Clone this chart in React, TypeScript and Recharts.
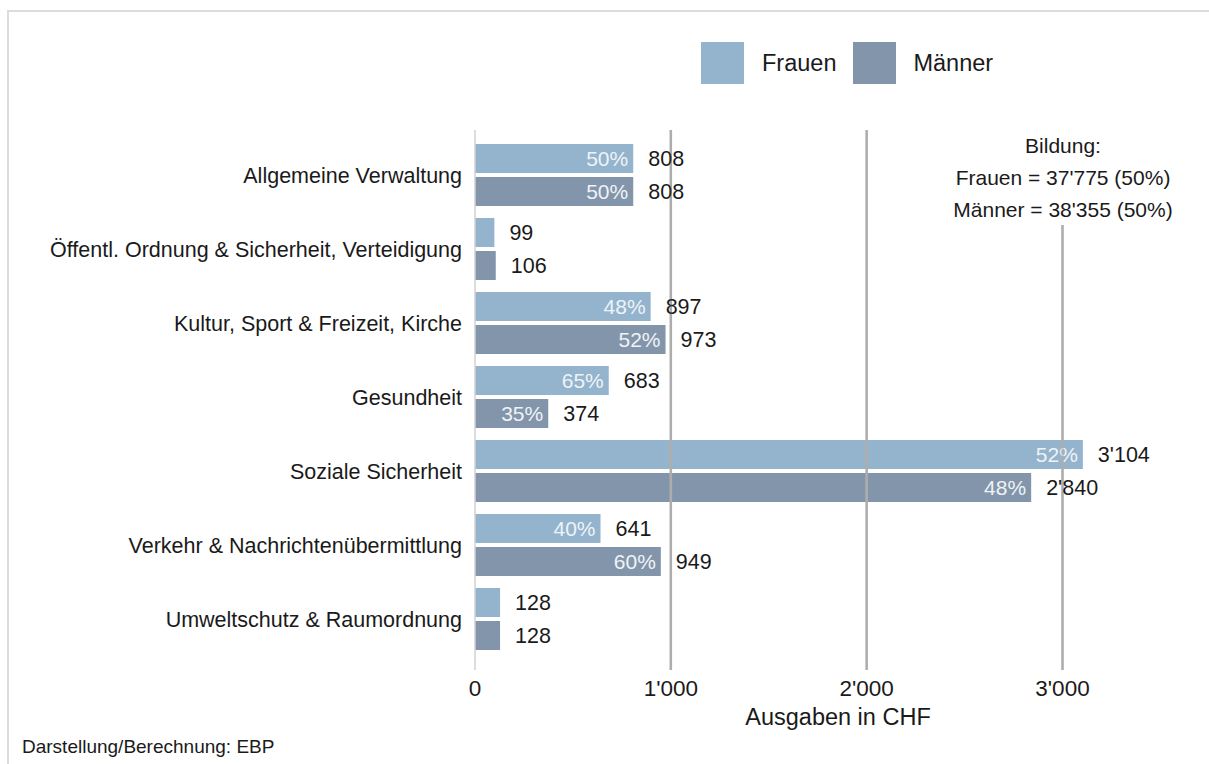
import { BarChart, Bar, XAxis, YAxis, ReferenceLine, LabelList } from "recharts";

const categories = [
  "Allgemeine Verwaltung",
  "Öffentl. Ordnung & Sicherheit, Verteidigung",
  "Kultur, Sport & Freizeit, Kirche",
  "Gesundheit",
  "Soziale Sicherheit",
  "Verkehr & Nachrichtenübermittlung",
  "Umweltschutz & Raumordnung",
];
const frauen = [808, 99, 897, 683, 3104, 641, 128];
const maenner = [808, 106, 973, 374, 2840, 949, 128];
const xTicks = [0, 1000, 2000, 3000];
const bildungFrauen = 37775;
const bildungMaenner = 38355;

const FONT = "'Liberation Sans', Arial, sans-serif";
const C_FRAUEN = "#94b4cd";
const C_MAENNER = "#8395aa";
const TXT = "#1a1a1a";
const X_DOMAIN = [0, 3600];

const fmt = (v: number) => String(v).replace(/\B(?=(\d{3})+(?!\d))/g, "'");
const pct = (a: number, b: number) => Math.round((a / (a + b)) * 100);

const data = categories.map((name, i) => ({
  name,
  frauen: frauen[i],
  maenner: maenner[i],
  fShare: pct(frauen[i], maenner[i]),
  mShare: pct(maenner[i], frauen[i]),
}));

const shareLabel = (key: "fShare" | "mShare") => (props: any) => {
  const { x, y, width, height, index, value } = props;
  if (value < 300) return null;
  return (
    <text
      x={x + width - 5}
      y={y + height / 2}
      textAnchor="end"
      dominantBaseline="central"
      fill="#eef3f7"
      fontSize={21}
      fontFamily={FONT}
    >
      {data[index][key]}%
    </text>
  );
};

const valueLabel = (props: any) => {
  const { x, y, width, height, value } = props;
  return (
    <text
      x={x + width + 15}
      y={y + height / 2}
      dominantBaseline="central"
      fill={TXT}
      fontSize={21.5}
      fontFamily={FONT}
    >
      {fmt(value)}
    </text>
  );
};

const gridLine = (skipTop: number, stroke: string) => (props: any) => {
  const { x1, y1, x2, y2 } = props;
  const top = Math.min(y1, y2);
  const bottom = Math.max(y1, y2);
  return <line x1={x1} y1={top + skipTop} x2={x2} y2={bottom} stroke={stroke} strokeWidth={2.5} />;
};

const UNDER = "#c6c6c6";
const OVER = "rgba(100,100,100,0.25)";

export default function App() {
  return (
    <div
      style={{
        position: "absolute",
        left: 0,
        top: 0,
        width: 1209,
        height: 764,
        background: "#fff",
        fontFamily: FONT,
        color: TXT,
        overflow: "hidden",
      }}
    >
      <div
        style={{
          position: "absolute",
          left: 7,
          top: 10,
          width: 1210,
          height: 760,
          borderTop: "2px solid #dcdcdc",
          borderLeft: "2px solid #dcdcdc",
        }}
      />

      {/* legend */}
      <div style={{ position: "absolute", left: 701, top: 42, display: "flex", alignItems: "center", fontSize: 23.5 }}>
        <div style={{ width: 43, height: 42, background: C_FRAUEN }} />
        <span style={{ marginLeft: 18 }}>Frauen</span>
        <div style={{ width: 43, height: 42, background: C_MAENNER, marginLeft: 17 }} />
        <span style={{ marginLeft: 17 }}>Männer</span>
      </div>

      <div style={{ position: "absolute", left: 0, top: 0 }}>
        <BarChart
          width={1209}
          height={764}
          data={data}
          layout="vertical"
          margin={{ top: 130, right: 29, bottom: 64, left: 0 }}
          barCategoryGap={6}
          barGap={4}
        >
          <ReferenceLine x={0} stroke="#d2d2d2" strokeWidth={1.5} />
          <ReferenceLine x={1000} shape={gridLine(0, UNDER)} />
          <ReferenceLine x={2000} shape={gridLine(0, UNDER)} />
          <ReferenceLine x={3000} shape={gridLine(95, UNDER)} />
          <XAxis
            type="number"
            domain={X_DOMAIN}
            ticks={xTicks}
            tickFormatter={fmt}
            axisLine={false}
            tickLine={false}
            tickSize={0}
            tickMargin={10}
            height={30}
            tick={{ fill: TXT, fontSize: 22.5, fontFamily: FONT }}
          />
          <YAxis
            type="category"
            dataKey="name"
            width={475}
            padding={{ top: 8, bottom: 14 }}
            axisLine={false}
            tickLine={false}
            tickSize={0}
            tickMargin={13}
            interval={0}
            tick={{ fill: TXT, fontSize: 21.5, fontFamily: FONT }}
          />
          <Bar dataKey="frauen" fill={C_FRAUEN} isAnimationActive={false}>
            <LabelList dataKey="frauen" content={shareLabel("fShare")} />
            <LabelList dataKey="frauen" content={valueLabel} />
          </Bar>
          <Bar dataKey="maenner" fill={C_MAENNER} isAnimationActive={false}>
            <LabelList dataKey="maenner" content={shareLabel("mShare")} />
            <LabelList dataKey="maenner" content={valueLabel} />
          </Bar>
        </BarChart>
      </div>

      {/* overlay with the same x scale, so the grid lines also show over the bars */}
      <div style={{ position: "absolute", left: 0, top: 0, pointerEvents: "none" }}>
        <BarChart
          width={1209}
          height={764}
          data={data}
          layout="vertical"
          margin={{ top: 130, right: 29, bottom: 64, left: 0 }}
        >
          <XAxis type="number" domain={X_DOMAIN} ticks={xTicks} height={30} tick={false} axisLine={false} tickLine={false} />
          <YAxis type="category" dataKey="name" width={475} tick={false} axisLine={false} tickLine={false} />
          <Bar dataKey="frauen" fill="transparent" fillOpacity={0} isAnimationActive={false} />
          <ReferenceLine x={1000} shape={gridLine(0, OVER)} />
          <ReferenceLine x={2000} shape={gridLine(0, OVER)} />
          <ReferenceLine x={3000} shape={gridLine(95, OVER)} />
        </BarChart>
      </div>

      {/* Bildung annotation */}
      <div
        style={{
          position: "absolute",
          left: 1063 - 160,
          top: 130,
          width: 320,
          textAlign: "center",
          fontSize: 21,
          lineHeight: "32px",
        }}
      >
        <div>Bildung:</div>
        <div>Frauen = {fmt(bildungFrauen)} ({pct(bildungFrauen, bildungMaenner)}%)</div>
        <div>Männer = {fmt(bildungMaenner)} ({pct(bildungMaenner, bildungFrauen)}%)</div>
      </div>

      <div style={{ position: "absolute", left: 628, width: 420, top: 704, textAlign: "center", fontSize: 23.5 }}>
        Ausgaben in CHF
      </div>
      <div style={{ position: "absolute", left: 22, top: 736, fontSize: 19 }}>
        Darstellung/Berechnung: EBP
      </div>
    </div>
  );
}
